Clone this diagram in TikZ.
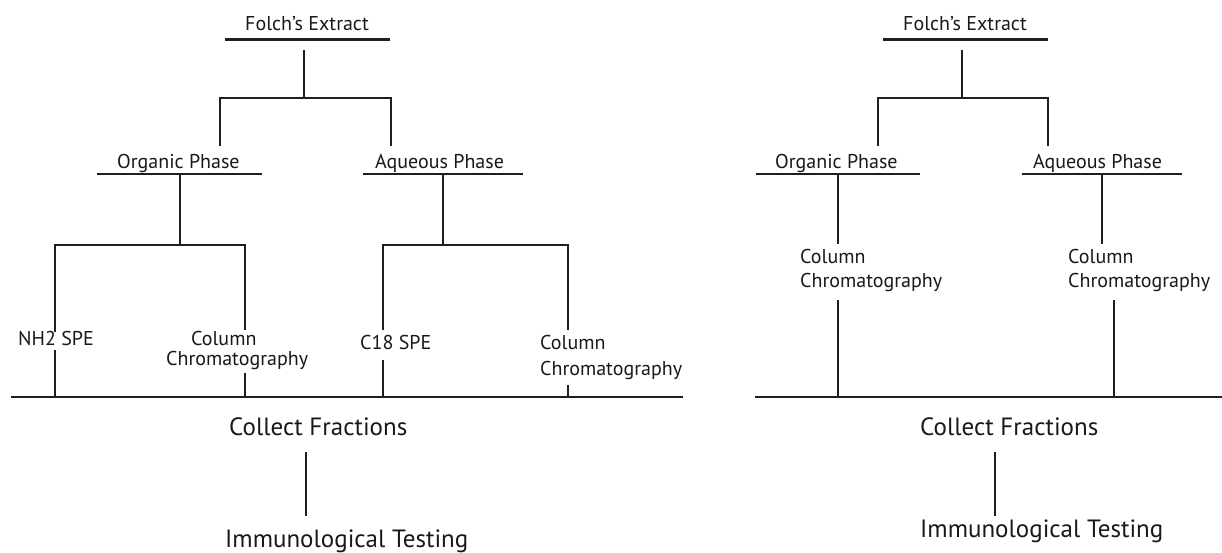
\documentclass[tikz,border=0pt]{standalone}
\usepackage{fontspec}
\setmainfont{PT Sans}
\begin{document}
\begin{tikzpicture}[x=1pt,y=-1pt,
  ln/.style={line width=2.3pt, draw=black!88, line cap=butt},
  lbl/.style={inner sep=0pt, anchor=base west, text=black!90, font=\fontsize{20}{24}\selectfont},
  lbltwo/.style={inner sep=0pt, anchor=base west, align=left, text=black!90, font=\fontsize{20}{24}\selectfont},
  big/.style={inner sep=0pt, anchor=base west, text=black!90, font=\fontsize{25}{30}\selectfont}]
\useasboundingbox (0,0) rectangle (1222,552);
\fill[white] (0,0) rectangle (1222,552);

% ===================== LEFT DIAGRAM =====================
\node[lbl] (feA) at (245,30) {Folch’s Extract};
\coordinate (feAl) at (225,39.5);
\coordinate (feAr) at (390,39.5);
\draw[ln] (feAl) -- (feAr);
\coordinate (feAd) at (304,50);
\coordinate (jA) at (304,98);
\draw[ln] (feAd) -- (jA);
\coordinate (opAt) at (220,146);
\coordinate (aqAt) at (391,146);
\draw[ln] (opAt) |- (jA) -| (aqAt);

\node[lbl] (opA) at (117,168) {Organic Phase};
\coordinate (opAl) at (97,174);
\coordinate (opAr) at (262,174);
\draw[ln] (opAl) -- (opAr);
\node[lbl] (aqA) at (375,168) {Aqueous Phase};
\coordinate (aqAl) at (363,174);
\coordinate (aqAr) at (523,174);
\draw[ln] (aqAl) -- (aqAr);

% organic branch
\coordinate (opAd) at (180,174);
\coordinate (jB) at (180,245);
\draw[ln] (opAd) -- (jB);
\coordinate (nhT) at (55,332);
\coordinate (ccAT) at (245,330);
\draw[ln] (nhT) |- (jB) -| (ccAT);
\node[lbl] (nh) at (18,345) {NH2 SPE};
\node[lbltwo] (ccA) at (166,365) {\hspace*{25pt}Column\\[-4pt]Chromatography};

% aqueous branch
\coordinate (aqAd) at (443,174);
\coordinate (jC) at (443,245);
\draw[ln] (aqAd) -- (jC);
\coordinate (c18T) at (383,330);
\coordinate (ccBT) at (568,330);
\draw[ln] (c18T) |- (jC) -| (ccBT);
\node[lbl] (c18) at (360,349) {C18 SPE};
\node[lbltwo] (ccB) at (540,375) {Column\\[2pt]Chromatography};

% collecting line
\coordinate (baseAl) at (11,397);
\coordinate (baseAr) at (683,397);
\draw[ln] (baseAl) -- (baseAr);
\coordinate (nhB) at (55,350);
\coordinate (nhE) at (55,397);
\draw[ln] (nhB) -- (nhE);
\coordinate (ccAB) at (245,373);
\coordinate (ccAE) at (245,397);
\draw[ln] (ccAB) -- (ccAE);
\coordinate (c18B) at (383,360);
\coordinate (c18E) at (383,397);
\draw[ln] (c18B) -- (c18E);
\coordinate (ccBB) at (568,385);
\coordinate (ccBE) at (568,397);
\draw[ln] (ccBB) -- (ccBE);

\node[big] (cfA) at (229,435) {Collect Fractions};
\coordinate (cfAd) at (306,452);
\coordinate (itAu) at (306,516);
\draw[ln] (cfAd) -- (itAu);
\node[big] (itA) at (225,547) {Immunological Testing};

% ===================== RIGHT DIAGRAM =====================
\node[lbl] (feB) at (903,30) {Folch’s Extract};
\coordinate (feBl) at (883,39.5);
\coordinate (feBr) at (1048,39.5);
\draw[ln] (feBl) -- (feBr);
\coordinate (feBd) at (962,50);
\coordinate (jD) at (962,98);
\draw[ln] (feBd) -- (jD);
\coordinate (opBt) at (878,146);
\coordinate (aqBt) at (1048,146);
\draw[ln] (opBt) |- (jD) -| (aqBt);

\node[lbl] (opB) at (775,168) {Organic Phase};
\coordinate (opBl) at (756,174);
\coordinate (opBr) at (920,174);
\draw[ln] (opBl) -- (opBr);
\node[lbl] (aqB) at (1033,168) {Aqueous Phase};
\coordinate (aqBl) at (1022,174);
\coordinate (aqBr) at (1182,174);
\draw[ln] (aqBl) -- (aqBr);

\coordinate (opBd) at (838,174);
\coordinate (opBe) at (838,244);
\draw[ln] (opBd) -- (opBe);
\coordinate (aqBd) at (1102,174);
\coordinate (aqBe) at (1102,244);
\draw[ln] (aqBd) -- (aqBe);

\node[lbltwo] (ccC) at (800,287) {Column\\Chromatography};
\node[lbltwo] (ccD) at (1068,287) {Column\\Chromatography};

\coordinate (baseBl) at (755,397);
\coordinate (baseBr) at (1222,397);
\draw[ln] (baseBl) -- (baseBr);
\coordinate (ccCB) at (838,300);
\coordinate (ccCE) at (838,397);
\draw[ln] (ccCB) -- (ccCE);
\coordinate (ccDB) at (1114,300);
\coordinate (ccDE) at (1114,397);
\draw[ln] (ccDB) -- (ccDE);

\node[big] (cfB) at (920,435) {Collect Fractions};
\coordinate (cfBd) at (995,452);
\coordinate (itBu) at (995,516);
\draw[ln] (cfBd) -- (itBu);
\node[big] (itB) at (920,537) {Immunological Testing};
\end{tikzpicture}
\end{document}
